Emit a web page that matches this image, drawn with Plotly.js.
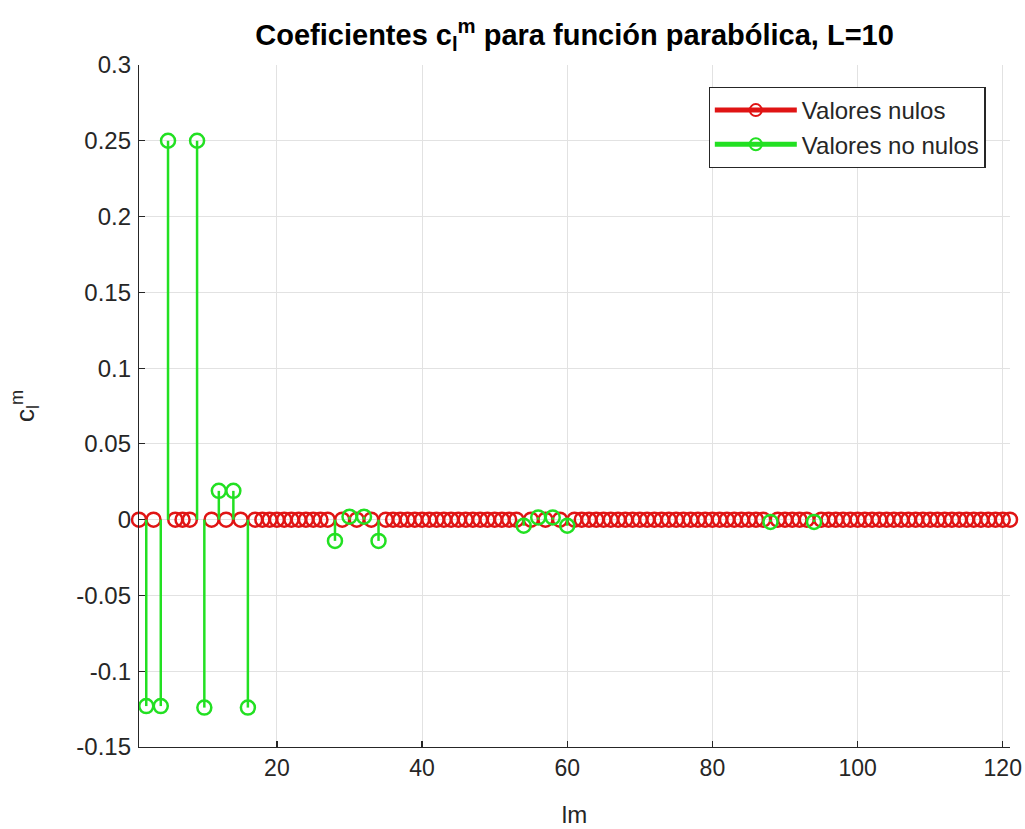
<!DOCTYPE html>
<html>
<head>
<meta charset="utf-8">
<script src="https://cdn.plot.ly/plotly-3.0.1.min.js"></script>
<style>
  html, body { margin: 0; padding: 0; background: #ffffff; }
  #chart { width: 1025px; height: 829px; }
</style>
</head>
<body>
<div id="chart"></div>
<script>
// index lm = l^2 + l + m + 1, l = 0..10
const lm = [];
for (let i = 1; i <= 121; i++) lm.push(i);

// coefficient values c_l^m, grouped by l
const cL0  = [0];
const cL1  = [-0.123, 0, -0.123];
const cL2  = [0.25, 0, 0, 0, 0.25];
const cL3  = [-0.124, 0, 0.019, 0, 0.019, 0, -0.124];
const cL4  = [0, 0, 0, 0, 0, 0, 0, 0, 0];
const cL5  = [0, 0, -0.014, 0, 0.002, 0, 0.002, 0, -0.014, 0, 0];
const cL6  = [0, 0, 0, 0, 0, 0, 0, 0, 0, 0, 0, 0, 0];
const cL7  = [0, 0, 0, 0, -0.004, 0, 0.0015, 0, 0.0015, 0, -0.004, 0, 0, 0, 0];
const cL8  = [0, 0, 0, 0, 0, 0, 0, 0, 0, 0, 0, 0, 0, 0, 0, 0, 0];
const cL9  = [0, 0, 0, 0, 0, 0, -0.0015, 0, 0, 0, 0, 0, -0.0015, 0, 0, 0, 0, 0, 0];
const cL10 = [0, 0, 0, 0, 0, 0, 0, 0, 0, 0, 0, 0, 0, 0, 0, 0, 0, 0, 0, 0, 0];

const coef = [].concat(cL0, cL1, cL2, cL3, cL4, cL5, cL6, cL7, cL8, cL9, cL10);

const seriesNames = ['Valores nulos', 'Valores no nulos'];
const xTicks = [20, 40, 60, 80, 100, 120];
const xTickLabels = ['20', '40', '60', '80', '100', '120'];
const yTicks = [-0.15, -0.1, -0.05, 0, 0.05, 0.1, 0.15, 0.2, 0.25, 0.3];
const yTickLabels = ['-0.15', '-0.1', '-0.05', '0', '0.05', '0.1', '0.15', '0.2', '0.25', '0.3'];

const RED = '#e01414';
const GREEN = '#22e022';

// split into null and non-null
const zx = [], zy = [], nx = [], ny = [], sx = [], sy = [];
coef.forEach((v, i) => {
  if (v === 0) { zx.push(lm[i]); zy.push(v); }
  else {
    nx.push(lm[i]); ny.push(v);
    sx.push(lm[i], lm[i], null);
    sy.push(0, v, null);
  }
});

const mk = (c) => ({ symbol: 'circle-open', size: 14, color: c, line: { width: 2.5, color: c } });

const traces = [
  { x: zx, y: zy, type: 'scatter', mode: 'markers', marker: mk(RED), showlegend: false, cliponaxis: false },
  { x: sx, y: sy, type: 'scatter', mode: 'lines', line: { color: GREEN, width: 2.5 }, showlegend: false },
  { x: nx, y: ny, type: 'scatter', mode: 'markers', marker: mk(GREEN), showlegend: false, cliponaxis: false },
  { x: [null], y: [null], type: 'scatter', mode: 'lines+markers', name: seriesNames[0], line: { color: RED, width: 2.5 }, marker: mk(RED) },
  { x: [null], y: [null], type: 'scatter', mode: 'lines+markers', name: seriesNames[1], line: { color: GREEN, width: 2.5 }, marker: mk(GREEN) }
];

const AX = '#262626';
const FONT = 'Liberation Sans, Arial, sans-serif';
const layout = {
  width: 1025, height: 829,
  paper_bgcolor: '#ffffff', plot_bgcolor: '#ffffff',
  margin: { l: 139, r: 15, t: 65, b: 82 },
  font: { family: FONT, size: 22, color: AX },
  title: {
    text: '<b>Coeficientes c<sub>l</sub><sup>m</sup> para función parabólica, L=10</b>',
    font: { family: FONT, size: 29, color: '#000000' },
    x: 0.5606, xanchor: 'center', y: 0.958, yanchor: 'middle'
  },
  xaxis: {
    range: [1, 121], tickvals: xTicks, ticktext: xTickLabels,
    showgrid: true, gridcolor: '#e2e2e2', gridwidth: 1, zeroline: false,
    showline: true, linecolor: AX, linewidth: 1.2, mirror: false,
    ticks: 'inside', ticklen: 6, tickcolor: AX, tickwidth: 1.2,
    tickfont: { size: 23, color: AX },
    title: { text: 'lm', font: { size: 24, color: AX }, standoff: 26 }
  },
  yaxis: {
    range: [-0.15, 0.3], tickvals: yTicks, ticktext: yTickLabels,
    showgrid: true, gridcolor: '#e2e2e2', gridwidth: 1, zeroline: false,
    showline: true, linecolor: AX, linewidth: 1.2, mirror: false,
    ticks: 'inside', ticklen: 6, tickcolor: AX, tickwidth: 1.2,
    tickfont: { size: 24, color: AX }, ticklabelstandoff: 2,
    title: { text: 'c<sub>l</sub><sup>m</sup>', font: { size: 26, color: AX }, standoff: 34 }
  },
  legend: {
    x: 0.972, xanchor: 'right', y: 0.968, yanchor: 'top',
    bgcolor: '#ffffff', bordercolor: '#262626', borderwidth: 1.2,
    font: { size: 24, color: AX }, itemsizing: 'constant', itemwidth: 82, tracegroupgap: 0
  },
  showlegend: true
};

Plotly.newPlot('chart', traces, layout, { displayModeBar: false, staticPlot: true });
</script>
</body>
</html>
